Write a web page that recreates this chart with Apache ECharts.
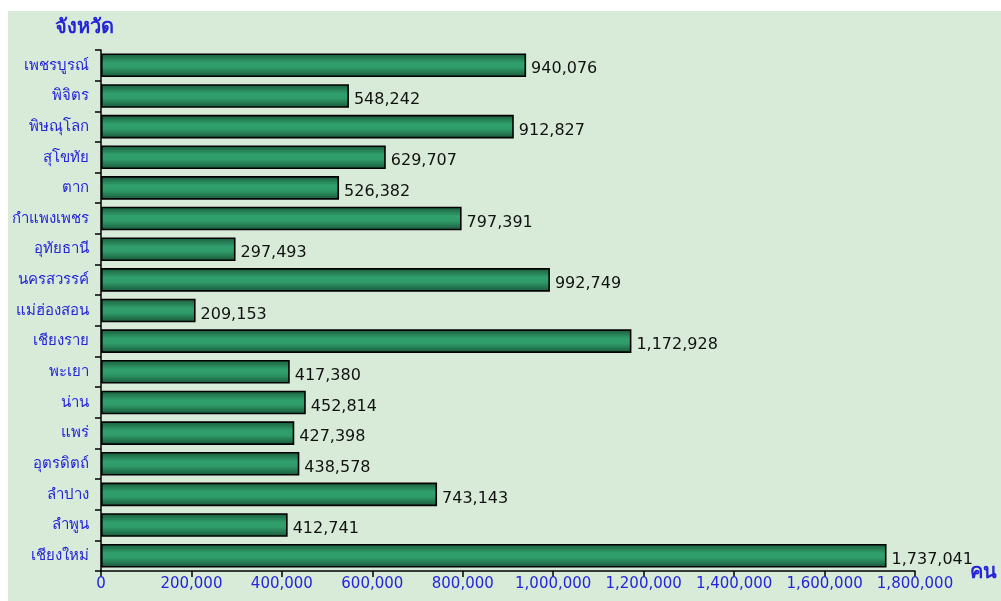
<!DOCTYPE html>
<html>
<head>
<meta charset="utf-8">
<script src="https://cdn.jsdelivr.net/npm/echarts@6/dist/echarts.min.js"></script>
<style>
  html, body { margin: 0; padding: 0; background: #ffffff; }
  #chart { width: 1001px; height: 601px; }
</style>
</head>
<body>
<div id="chart"></div>
<script>
// Provinces, listed top to bottom
const provinces = [
  'เพชรบูรณ์', 'พิจิตร', 'พิษณุโลก', 'สุโขทัย', 'ตาก', 'กำแพงเพชร',
  'อุทัยธานี', 'นครสวรรค์', 'แม่ฮ่องสอน', 'เชียงราย', 'พะเยา', 'น่าน',
  'แพร่', 'อุตรดิตถ์', 'ลำปาง', 'ลำพูน', 'เชียงใหม่'
];
// Population (persons)
const population = [
  940076, 548242, 912827, 629707, 526382, 797391,
  297493, 992749, 209153, 1172928, 417380, 452814,
  427398, 438578, 743143, 412741, 1737041
];
const xMin = 0;
const xMax = 1800000;
const xStep = 200000;

const fmt = v => v.toLocaleString('en-US');
const blue = '#2424d8';

const chart = echarts.init(document.getElementById('chart'), null, { renderer: 'canvas' });
chart.setOption({
  backgroundColor: '#ffffff',
  animation: false,
  graphic: [
    { type: 'rect', z: -10, shape: { x: 8, y: 11, width: 1001, height: 601 }, style: { fill: '#d8ebd8' } },
    { type: 'text', left: 55, top: 17, style: { text: 'จังหวัด', fill: blue, font: 'bold 20px "Noto Sans"' } },
    { type: 'text', left: 970, top: 562, style: { text: 'คน', fill: blue, font: 'bold 20px "Noto Sans"' } }
  ],
  grid: { left: 101, right: 86, top: 50, bottom: 30, containLabel: false },
  xAxis: {
    type: 'value', min: xMin, max: xMax, interval: xStep,
    axisLine: { show: true, lineStyle: { color: '#000', width: 1.5 } },
    axisTick: { show: true, length: 6, lineStyle: { color: '#000', width: 1.5 } },
    splitLine: { show: false },
    axisLabel: { color: blue, fontSize: 15, fontFamily: 'DejaVu Sans', margin: 6, formatter: v => fmt(v) }
  },
  yAxis: {
    type: 'category', data: provinces, inverse: true,
    axisLine: { show: true, lineStyle: { color: '#000', width: 1.5 } },
    axisTick: { show: true, length: 6, alignWithLabel: false, lineStyle: { color: '#000', width: 1.5 } },
    axisLabel: { color: blue, fontSize: 15, fontFamily: 'Noto Sans', margin: 12 }
  },
  series: [{
    type: 'bar',
    data: population,
    barWidth: '77%',
    itemStyle: {
      borderColor: '#000', borderWidth: 1.6,
      color: new echarts.graphic.LinearGradient(0, 0, 0, 1, [
        { offset: 0, color: '#1a5a3b' },
        { offset: 0.4, color: '#31a06d' },
        { offset: 0.6, color: '#2f9b69' },
        { offset: 1, color: '#185638' }
      ])
    },
    label: {
      show: true, position: 'right', distance: 5,
      color: '#111', fontSize: 16, fontFamily: 'DejaVu Sans',
      offset: [0, 4],
      formatter: p => fmt(p.value)
    }
  }]
});
</script>
</body>
</html>
